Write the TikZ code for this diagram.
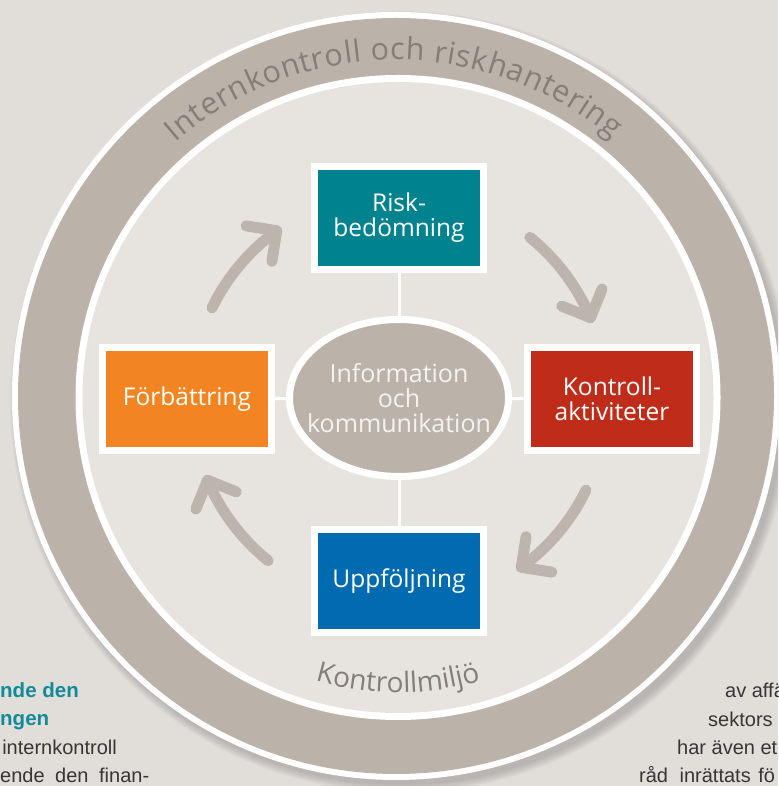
\documentclass[tikz,border=0pt]{standalone}
\usepackage{fontspec}
\setmainfont{Open Sans}
\newfontfamily\sidefont{Liberation Sans}
\usetikzlibrary{shapes.geometric,decorations.text,calc}
\definecolor{bgout}{HTML}{E1DDD9}
\definecolor{bgin}{HTML}{E7E4E0}
\definecolor{ringgrey}{HTML}{BBB2AA}
\definecolor{ringtext}{HTML}{857D77}
\definecolor{riskteal}{HTML}{00838F}
\definecolor{ctrlred}{HTML}{C02C1A}
\definecolor{followblue}{HTML}{006BB0}
\definecolor{improveorange}{HTML}{F28522}
\definecolor{infotext}{HTML}{F5F3F0}
\definecolor{headteal}{HTML}{108B97}
\definecolor{bodygrey}{HTML}{363636}
\definecolor{arrowgrey}{HTML}{BDB5AD}
\newcommand\ringtxt{\fontsize{30.5}{30}\selectfont}
\newcommand\basetxt{\fontsize{28}{28}\selectfont}
\newcommand\cyclearrow[2]{%
  \draw[cyclearr] ($(A)+(#1:208)$) arc[start angle=#1, end angle=#2, radius=208];
  \draw[cyclearr] ($(A)+(#2:208)+(#2+45:31)$) -- ($(A)+(#2:208)$) -- ($(A)+(#2:208)+(#2+135:31)$);
}
\begin{document}
\begin{tikzpicture}[x=1pt,y=1pt,
  stepbox/.style={rectangle, minimum width=169pt, minimum height=103pt, draw=white, line width=7pt, inner sep=0pt, text=white, align=center, font=\fontsize{24.5}{25}\selectfont},
  infoshape/.style={ellipse, minimum width=219pt, minimum height=157pt, draw=white, line width=7pt, fill=ringgrey, inner sep=0pt},
  infotxt/.style={text=infotext, align=center, inner sep=0pt, font=\fontsize{25}{25}\selectfont},
  linkline/.style={draw=white, line width=3pt},
  cyclearr/.style={draw=arrowgrey, line width=11pt, line cap=round, line join=round},
  sidehead/.style={text=headteal, inner sep=0pt, font=\sidefont\bfseries\fontsize{20.5}{20}\selectfont},
  sidebody/.style={text=bodygrey, inner sep=0pt, font=\sidefont\fontsize{20}{20}\selectfont},
]
\useasboundingbox (0,0) rectangle (778,786);
\fill[bgout] (0,0) rectangle (778,786);
\clip (0,0) rectangle (778,786);
\coordinate (C1) at (396,390);
\coordinate (C0) at (398,388.5);
\coordinate (A) at (399,387);
% soft shadow
\foreach \k in {0,...,8} {\fill[black, opacity=0.02] (401,384) circle (383+\k);}
% rings
\fill[white] (C1) circle (384);
\fill[ringgrey] (C1) circle (378);
\fill[white] (C0) circle (322.5);
\fill[bgin] (C0) circle (315.5);
% ring texts
\path[decorate, decoration={text along path, text align={fit to path}, text color=ringtext,
  text={|\ringtxt|Internkontroll och riskhantering}}]
  ($(C1)+(131:336)$) arc[start angle=131, end angle=50, radius=336];
\path[decorate, decoration={text along path, text align=center, text color=ringtext,
  text={|\basetxt|Kontrollmiljö}}]
  ($(C0)+(250:295)$) arc[start angle=250, end angle=290, radius=295];
% cycle arrows
\cyclearrow{154}{126}
\cyclearrow{51}{23}
\cyclearrow{-26}{-54}
\cyclearrow{231}{203}
% boxes
\node[stepbox, fill=riskteal] (risk) at (399,568) {Risk-\\bedömning};
\node[stepbox, fill=ctrlred] (ctrl) at (612,387) {Kontroll-\\aktiviteter};
\node[stepbox, fill=followblue] (follow) at (399,205) {Uppföljning};
\node[stepbox, fill=improveorange] (improve) at (187,387) {Förbättring};
\node[infoshape] (info) at (399,388) {};
\node[infotxt] (infolabel) at (info.center) {Information\\och\\kommunikation};
% links
\draw[linkline] (risk) -- (info);
\draw[linkline] (info) -- (follow);
\draw[linkline] (improve) -- (info);
\draw[linkline] (info) -- (ctrl);
% side text fragments
\node[sidehead, anchor=base west] (lh1) at (0,88) {nde den};
\node[sidehead, anchor=base west] (lh2) at (0,60) {ngen};
\node[sidebody, anchor=base east] (lb1) at (117,31) {internkontroll};
\node[sidebody, anchor=base west] (lb2) at (0,3) {ende\hspace{5pt} den\hspace{5pt} finan-};
\node[sidebody, anchor=base west] (rb1) at (725,88) {av affä};
\node[sidebody, anchor=base west] (rb2) at (708,59) {sektors};
\node[sidebody, anchor=base west] (rb3) at (677,31) {har även et};
\node[sidebody, anchor=base west] (rb4) at (639,3) {råd\hspace{6pt} inrättats\hspace{2pt} fö};
\end{tikzpicture}
\end{document}
